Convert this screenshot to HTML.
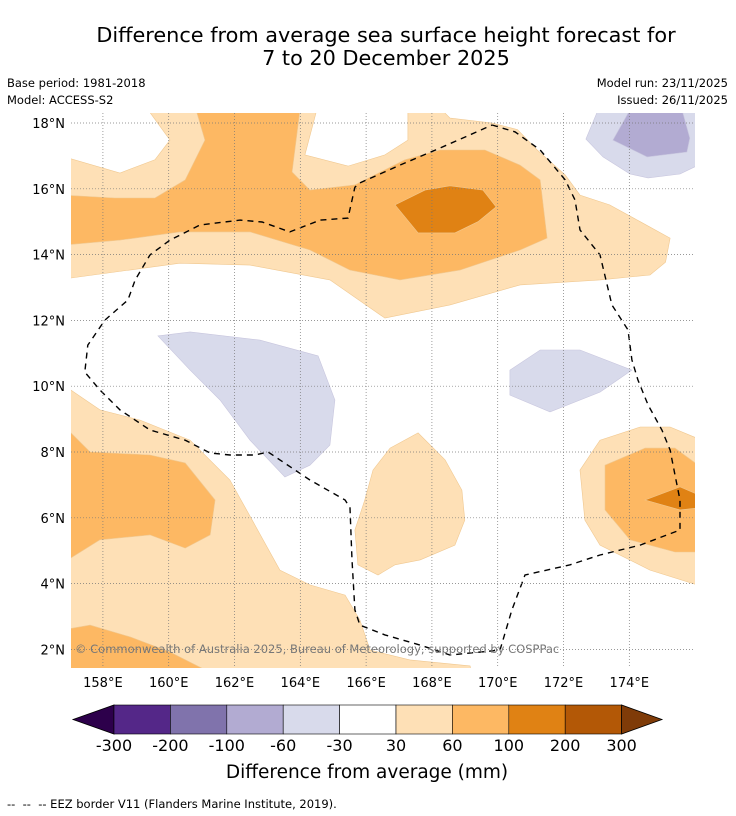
<!DOCTYPE html>
<html><head><meta charset="utf-8"><style>
body{margin:0;background:#fff;width:736px;height:816px;overflow:hidden;font-family:"DejaVu Sans",sans-serif}
svg{display:block}
text{white-space:pre}
</style></head><body>
<svg id="chart" width="736" height="816" font-family="DejaVu Sans, sans-serif">
<defs><clipPath id="mapclip"><rect x="71" y="113" width="624" height="555"/></clipPath></defs>
<text x="386" y="42" font-size="20.8" text-anchor="middle">Difference from average sea surface height forecast for</text>
<text x="386" y="65" font-size="20.8" text-anchor="middle">7 to 20 December 2025</text>
<text x="7" y="87" font-size="11.5">Base period: 1981-2018</text>
<text x="7" y="104" font-size="11.5">Model: ACCESS-S2</text>
<text x="728" y="87" font-size="11.5" text-anchor="end">Model run: 23/11/2025</text>
<text x="728" y="104" font-size="11.5" text-anchor="end">Issued: 26/11/2025</text>
<g id="map" clip-path="url(#mapclip)"></g>
<g id="grid"></g>
<g id="axes"></g>
<text x="75" y="653" font-size="11.5" fill="#777">© Commonwealth of Australia 2025, Bureau of Meteorology, supported by COSPPac</text>
<g id="cbar"></g>
<text x="367" y="778" font-size="18.5" text-anchor="middle">Difference from average (mm)</text>
<text x="7" y="808" font-size="11.5" xml:space="preserve">--  --  -- EEZ border V11 (Flanders Marine Institute, 2019).</text>
</svg>
<script>
const lonTicks=[158,160,162,164,166,168,170,172,174];
const latTicks=[2,4,6,8,10,12,14,16,18];
const cbarLevels=[-300,-200,-100,-60,-30,30,60,100,200,300];
const cbarColors=["#542788","#8073ac","#b2abd2","#d8daeb","#ffffff","#fee0b6","#fdb863","#e08214","#b35806"];
const regionNames=["top-light-orange","top-mid-orange","top-dark-orange","left-purple","right-purple","topright-purple","topright-mid-purple","bl-light-orange","bl-mid-orange","bottom-mid-orange","middle-light-orange","right-light-orange","right-mid-orange","right-dark-orange"];
const regionColors=["#fee0b6","#fdb863","#e08214","#d8daeb","#d8daeb","#d8daeb","#b2abd2","#fee0b6","#fdb863","#fdb863","#fee0b6","#fee0b6","#fdb863","#e08214"];
const regionCoords=[
[[156.8,16.98],[158.52,16.48],[159.58,16.88],[160.04,17.48],[159.37,18.4],[164.5,18.4],[164.14,17.03],[165.45,16.69],[166.57,17.03],[167.27,17.48],[167.27,18.4],[168.3,18.4],[168.55,18.15],[169.83,18.0],[170.6,17.8],[171.2,17.18],[172.05,16.42],[172.5,15.81],[173.4,15.51],[174.33,15.0],[175.24,14.5],[175.1,13.77],[174.63,13.38],[173.11,13.23],[170.68,13.08],[168.55,12.47],[166.57,12.07],[164.9,13.23],[162.47,13.68],[160.34,13.74],[157.03,13.29],[156.8,13.25]],
[[156.8,15.81],[158.36,15.72],[159.58,15.72],[160.5,16.27],[161.1,17.48],[160.83,18.4],[163.99,18.4],[163.75,16.51],[164.29,15.96],[165.66,16.12],[167.18,16.88],[168.25,17.18],[169.61,17.18],[170.68,16.72],[171.29,16.27],[171.5,14.5],[170.68,14.14],[168.85,13.53],[167.03,13.23],[165.51,13.53],[164.29,14.14],[162.47,14.69],[160.34,14.69],[158.52,14.44],[156.8,14.29]],
[[166.88,15.51],[167.79,15.96],[168.55,16.09],[169.55,15.96],[169.95,15.45],[169.4,15.0],[168.7,14.66],[167.58,14.66]],
[[159.67,11.53],[160.65,11.65],[162.77,11.4],[164.54,10.92],[165.05,9.58],[164.9,8.21],[164.29,7.6],[163.53,7.24],[162.47,8.36],[161.56,9.58],[160.65,10.49]],
[[170.37,10.49],[171.29,11.1],[172.5,11.1],[174.08,10.49],[173.11,9.82],[171.59,9.22],[170.37,9.73]],
[[172.68,17.51],[173.05,18.4],[176.1,18.4],[176.1,16.72],[175.54,16.45],[174.57,16.33],[174.02,16.45],[173.2,16.97]],
[[174.02,18.4],[173.5,17.48],[174.54,16.97],[175.75,17.12],[175.84,17.54],[175.6,18.4]],
[[156.8,9.95],[157.03,9.88],[157.91,9.28],[159.13,8.97],[160.65,8.36],[161.86,7.15],[162.62,5.78],[163.38,4.41],[164.29,3.96],[165.36,3.65],[165.81,2.89],[166.12,1.98],[167.33,1.68],[169.16,1.5],[169.2,1.3],[156.8,1.3]],
[[156.8,8.6],[157.03,8.58],[157.61,8.0],[159.43,7.91],[160.5,7.67],[161.41,6.54],[161.26,5.48],[160.5,5.08],[159.43,5.48],[157.91,5.33],[157.03,4.78],[156.8,4.7]],
[[156.8,2.6],[157.61,2.74],[158.83,2.38],[160.04,1.92],[161.26,1.3],[156.8,1.3]],
[[166.73,8.12],[167.58,8.58],[168.4,7.76],[168.91,6.84],[169.0,5.93],[168.7,5.17],[167.64,4.72],[166.88,4.57],[166.36,4.26],[165.75,4.57],[165.66,5.63],[165.96,6.54],[166.21,7.45]],
[[172.5,7.45],[173.11,8.36],[174.33,8.76],[175.24,8.76],[176.1,8.4],[176.1,3.95],[174.63,4.41],[173.11,5.17],[172.65,5.93]],
[[173.26,7.6],[174.48,8.12],[175.39,8.12],[176.1,7.6],[176.1,4.96],[175.39,4.96],[174.02,5.33],[173.26,6.24]],
[[174.48,6.54],[175.54,6.94],[176.1,6.7],[176.1,6.3],[175.54,6.24]]
];
const eezLon=[169.83,170.53,171.29,172.05,172.35,172.5,173.11,173.47,173.96,174.08,174.26,174.57,174.99,175.24,175.39,175.54,175.54,174.33,173.11,172.2,170.83,170.43,170.07,168.55,167.64,166.57,165.81,165.66,165.57,165.51,165.36,164.29,163.38,163.02,162.62,161.86,161.26,160.5,159.43,158.52,157.91,157.45,157.54,158.06,158.76,158.98,159.43,160.04,160.95,162.17,162.84,163.68,164.6,165.45,165.66,165.81,167.03,168.25,169.16,169.83];
const eezLat=[17.94,17.73,17.18,16.27,15.66,14.75,13.99,12.47,11.71,10.8,10.19,9.43,8.67,8.06,7.3,6.54,5.63,5.17,4.87,4.57,4.26,3.2,1.98,1.83,2.13,2.44,2.74,3.2,4.72,6.3,6.54,7.15,7.76,8.0,7.91,7.91,7.97,8.36,8.67,9.28,9.88,10.43,11.25,12.01,12.62,13.23,13.99,14.44,14.9,15.05,14.99,14.69,15.05,15.11,16.05,16.18,16.72,17.24,17.64,17.94];

const NS="http://www.w3.org/2000/svg";
const X0=71,LON0=157.03,PX=32.9,Y18=123;
function xs(lon){return X0+(lon-LON0)*PX;}
function ys(lat){return Y18+(18-lat)*PX;}
function mk(tag,attrs,parent){const e=document.createElementNS(NS,tag);for(const k in attrs)e.setAttribute(k,attrs[k]);parent.appendChild(e);return e;}
const map=document.getElementById('map');
regionCoords.forEach((poly,i)=>{
  const c=regionColors[i];
  const st=(c=="#d8daeb"||c=="#b2abd2")?"#c8c6de":"#f0c890";
  const p=mk('polygon',{points:poly.map(q=>xs(q[0]).toFixed(1)+','+ys(q[1]).toFixed(1)).join(' '),fill:c,stroke:st,'stroke-width':0.6},map);
  
  
});
const eez=mk('polyline',{points:eezLon.map((l,i)=>xs(l).toFixed(1)+','+ys(eezLat[i]).toFixed(1)).join(' '),fill:'none',stroke:'#000','stroke-width':1.4,'stroke-dasharray':'6,5'},map);


const grid=document.getElementById('grid'),axes=document.getElementById('axes');
lonTicks.forEach(l=>{
  const g=mk('line',{x1:xs(l),x2:xs(l),y1:113,y2:668,stroke:'#777','stroke-width':0.7,'stroke-dasharray':'1,2'},grid);
  
  
  const t=mk('text',{x:xs(l),y:687,'font-size':13,'text-anchor':'middle'},axes);t.textContent=l+'°E';
  
  
});
latTicks.forEach(l=>{
  const g=mk('line',{x1:71,x2:695,y1:ys(l),y2:ys(l),stroke:'#777','stroke-width':0.7,'stroke-dasharray':'1,2'},grid);
  
  
  const t=mk('text',{x:65,y:ys(l)+5,'font-size':13,'text-anchor':'end'},axes);t.textContent=l+'°N';
  
  
});
const cb=document.getElementById('cbar');
const CB0=114,CBW=56.4,CBY=705,CBH=29;
function cbx(i){return CB0+i*CBW;}
const lt=mk('polygon',{points:`${CB0},${CBY} ${CB0},${CBY+CBH} 73,${CBY+CBH/2}`,fill:'#2d004b',stroke:'#000','stroke-width':0.8},cb);


cbarColors.forEach((c,i)=>{
  const r=mk('rect',{x:cbx(i),y:CBY,width:CBW,height:CBH,fill:c,stroke:'#000','stroke-width':0.6},cb);
  
  
});
const rt=mk('polygon',{points:`${cbx(cbarColors.length)},${CBY} ${cbx(cbarColors.length)},${CBY+CBH} 662,${CBY+CBH/2}`,fill:'#7f3b08',stroke:'#000','stroke-width':0.8},cb);


cbarLevels.forEach((v,i)=>{
  const t=mk('text',{x:cbx(i),y:751,'font-size':16,'text-anchor':'middle'},cb);t.textContent=v;
  
  
});
</script>
</body></html>
